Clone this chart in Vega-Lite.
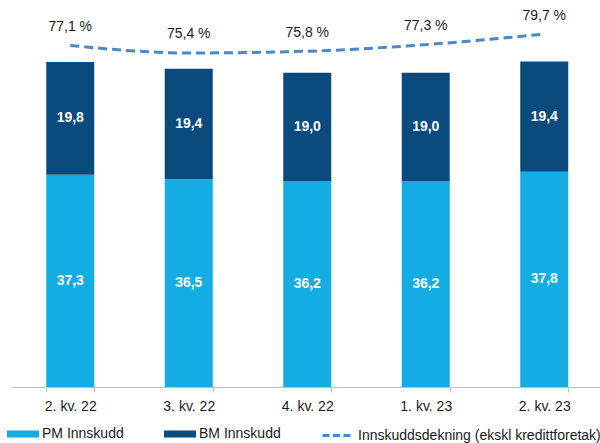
{
  "$schema": "https://vega.github.io/schema/vega-lite/v6.json",
  "width": 592.5,
  "height": 387,
  "autosize": {"type": "none"},
  "padding": {"left": 11, "top": 0, "right": 0, "bottom": 56},
  "background": "white",
  "config": {"view": {"stroke": null}, "font": "Liberation Sans"},
  "datasets": {
    "innskudd": [
      {"kvartal": "2. kv. 22", "serie": "PM Innskudd", "verdi": 37.3},
      {"kvartal": "2. kv. 22", "serie": "BM Innskudd", "verdi": 19.8},
      {"kvartal": "3. kv. 22", "serie": "PM Innskudd", "verdi": 36.5},
      {"kvartal": "3. kv. 22", "serie": "BM Innskudd", "verdi": 19.4},
      {"kvartal": "4. kv. 22", "serie": "PM Innskudd", "verdi": 36.2},
      {"kvartal": "4. kv. 22", "serie": "BM Innskudd", "verdi": 19.0},
      {"kvartal": "1. kv. 23", "serie": "PM Innskudd", "verdi": 36.2},
      {"kvartal": "1. kv. 23", "serie": "BM Innskudd", "verdi": 19.0},
      {"kvartal": "2. kv. 23", "serie": "PM Innskudd", "verdi": 37.8},
      {"kvartal": "2. kv. 23", "serie": "BM Innskudd", "verdi": 19.4}
    ],
    "dekning": [
      {"kvartal": "2. kv. 22", "dekning": 77.1},
      {"kvartal": "3. kv. 22", "dekning": 75.4},
      {"kvartal": "4. kv. 22", "dekning": 75.8},
      {"kvartal": "1. kv. 23", "dekning": 77.3},
      {"kvartal": "2. kv. 23", "dekning": 79.7}
    ]
  },
  "encoding": {
    "x": {
      "field": "kvartal",
      "type": "nominal",
      "sort": ["2. kv. 22", "3. kv. 22", "4. kv. 22", "1. kv. 23", "2. kv. 23"],
      "scale": {"paddingInner": 0.595, "paddingOuter": 0.2975},
      "axis": {
        "title": null,
        "labelAngle": 0,
        "domainColor": "#BFBFBF",
        "tickColor": "#BFBFBF",
        "tickSize": 5,
        "tickBand": "extent",
        "labelFontSize": 14,
        "labelColor": "#1a1a1a",
        "labelPadding": 7,
        "grid": false
      }
    }
  },
  "layer": [
    {
      "data": {"name": "innskudd"},
      "transform": [
        {"stack": "verdi", "groupby": ["kvartal"], "sort": [{"field": "serie", "order": "descending"}], "as": ["y0", "y1"]},
        {"calculate": "(datum.y0 + datum.y1) / 2", "as": "ymid"},
        {"calculate": "replace(format(datum.verdi, '.1f'), '.', ',')", "as": "etikett"}
      ],
      "layer": [
        {
          "mark": {"type": "bar"},
          "encoding": {
            "y": {"field": "y1", "type": "quantitative", "scale": {"domain": [0, 68], "nice": false}, "axis": null},
            "y2": {"field": "y0"},
            "fill": {
              "field": "serie",
              "type": "nominal",
              "scale": {"domain": ["PM Innskudd", "BM Innskudd"], "range": ["#13ADE4", "#0B4A7D"]},
              "legend": {
                "orient": "none",
                "legendX": -4,
                "legendY": 418,
                "direction": "horizontal",
                "title": null,
                "symbolType": "M-1,-0.22H1V0.22H-1Z",
                "symbolSize": 1024,
                "symbolStrokeWidth": 0,
                "labelFontSize": 14,
                "labelColor": "#1a1a1a",
                "labelOffset": 3,
                "columnPadding": 40,
                "labelLimit": 0
              }
            }
          }
        },
        {
          "mark": {"type": "text", "color": "white", "fontWeight": "bold", "fontSize": 14, "baseline": "middle"},
          "encoding": {
            "y": {"field": "ymid", "type": "quantitative"},
            "text": {"field": "etikett", "type": "nominal"}
          }
        }
      ]
    },
    {
      "data": {"name": "dekning"},
      "transform": [
        {"calculate": "replace(format(datum.dekning, '.1f'), '.', ',') + ' %'", "as": "etikett"}
      ],
      "layer": [
        {
          "mark": {"type": "line", "interpolate": "monotone", "strokeDash": [9, 5], "strokeWidth": 3},
          "encoding": {
            "y": {"field": "dekning", "type": "quantitative", "scale": {"domain": [-0.5, 87.44], "nice": false, "zero": false}, "axis": null},
            "stroke": {
              "datum": "Innskuddsdekning (ekskl kredittforetak)",
              "type": "nominal",
              "scale": {"range": ["#4A88C8"]},
              "legend": {
                "orient": "none",
                "legendX": 310,
                "legendY": 418.5,
                "title": null,
                "symbolType": "stroke",
                "symbolSize": 961,
                "symbolStrokeWidth": 3,
                "symbolDash": [7, 3.5],
                "labelFontSize": 14,
                "labelColor": "#1a1a1a",
                "labelOffset": 3,
                "labelLimit": 0
              }
            }
          }
        },
        {
          "mark": {"type": "text", "fontSize": 14, "color": "#1a1a1a", "dy": -18.5, "baseline": "middle"},
          "encoding": {
            "y": {"field": "dekning", "type": "quantitative"},
            "text": {"field": "etikett", "type": "nominal"}
          }
        }
      ]
    }
  ],
  "resolve": {"scale": {"y": "independent"}}
}
